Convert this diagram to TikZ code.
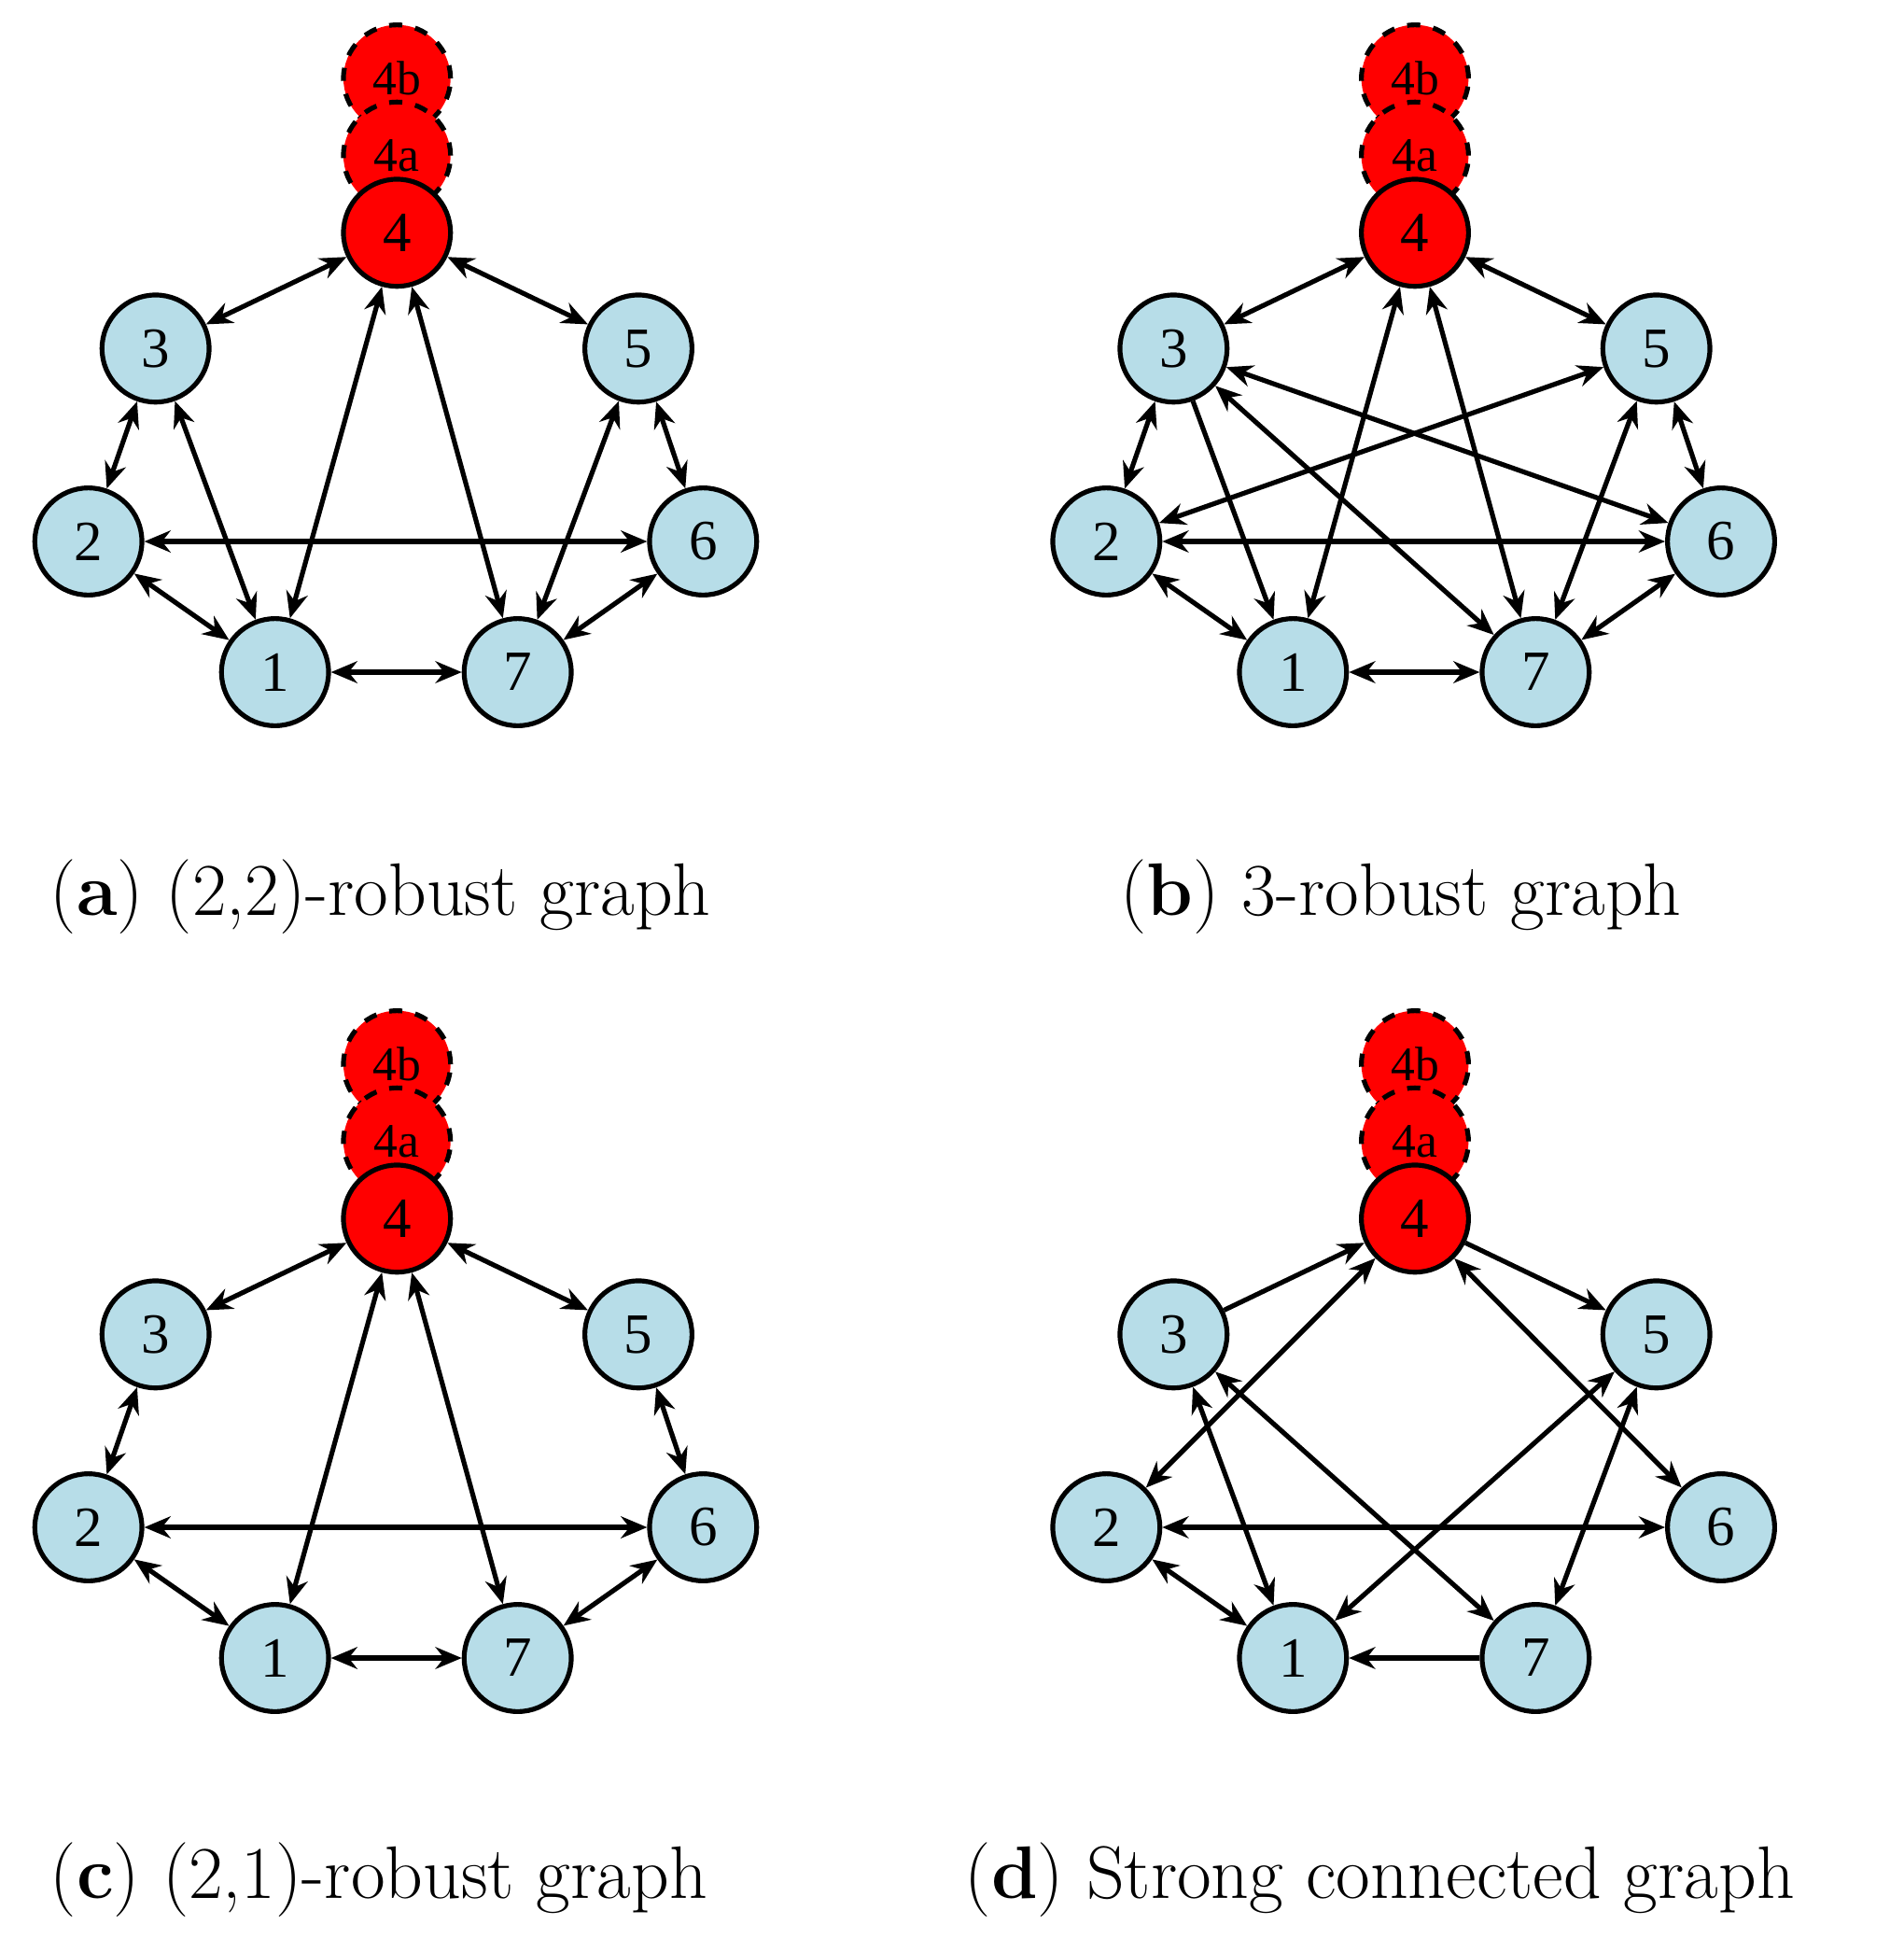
\documentclass[tikz,border=0pt]{standalone}
\usepackage{fontspec}
\newfontfamily\nodefont{Liberation Serif}
\usetikzlibrary{arrows.meta}
\tikzset{
 x=0.01cm,y=-0.01cm,
 nd/.style={circle,draw,line width=1.1pt,minimum size=0.86cm,inner sep=0pt,font=\nodefont\fontsize{13}{13}\selectfont},
 bl/.style={nd,fill={rgb,255:red,183;green,221;blue,232}},
 rd/.style={nd,fill=red},
 rdd/.style={rd,dashed,font=\nodefont\fontsize{11}{11}\selectfont},
 e/.style={line width=1.1pt,{Stealth[length=6pt,width=5pt]}-{Stealth[length=6pt,width=5pt]}},
 o/.style={line width=1.1pt,-{Stealth[length=6pt,width=5pt]}},
 captxt/.style={anchor=base west,font=\fontsize{17}{20}\selectfont}
}
\newcommand{\mypanel}[3]{%
 \begin{scope}[shift={(#2,#3)}]
 \node[rdd] (#1b) at (319,63) {4b};
 \node[rdd] (#1a) at (319,125) {4a};
 \node[rd] (#14) at (319,187) {4};
 \node[bl] (#13) at (125,280) {3};
 \node[bl] (#15) at (513,280) {5};
 \node[bl] (#12) at (71,435) {2};
 \node[bl] (#16) at (565,435) {6};
 \node[bl] (#11) at (221,540) {1};
 \node[bl] (#17) at (416,540) {7};
 \end{scope}}
\begin{document}
\begin{tikzpicture}
\useasboundingbox (0,0) rectangle (1530,1569);
\mypanel{a}{0}{0}
\mypanel{b}{818}{0}
\mypanel{c}{0}{792}
\mypanel{d}{818}{792}
% (a)
\foreach \u/\v in {4/3,4/5,4/1,4/7,3/2,3/1,5/7,5/6,2/6,2/1,1/7,7/6}
 \draw[e] (a\u) -- (a\v);
% (b)
\foreach \u/\v in {4/3,4/5,4/1,4/7,3/2,3/7,3/6,2/5,5/7,5/6,2/6,2/1,1/7,7/6}
 \draw[e] (b\u) -- (b\v);
\draw[o] (b3) -- (b1);
% (c)
\foreach \u/\v in {4/3,4/5,4/1,4/7,3/2,5/6,2/6,2/1,1/7,7/6}
 \draw[e] (c\u) -- (c\v);
% (d)
\foreach \u/\v in {4/2,4/6,3/1,3/7,5/1,5/7,2/6,2/1}
 \draw[e] (d\u) -- (d\v);
\draw[o] (d3) -- (d4);
\draw[o] (d4) -- (d5);
\draw[o] (d7) -- (d1);
\node[captxt] (ca) at (28,735) {(\textbf{a}) (2,2)-robust graph};
\node[captxt] (cb) at (888,735) {(\textbf{b}) 3-robust graph};
\node[captxt] (cc) at (28,1525) {(\textbf{c}) (2,1)-robust graph};
\node[captxt] (cd) at (763,1525) {(\textbf{d}) Strong connected graph};
\end{tikzpicture}
\end{document}
